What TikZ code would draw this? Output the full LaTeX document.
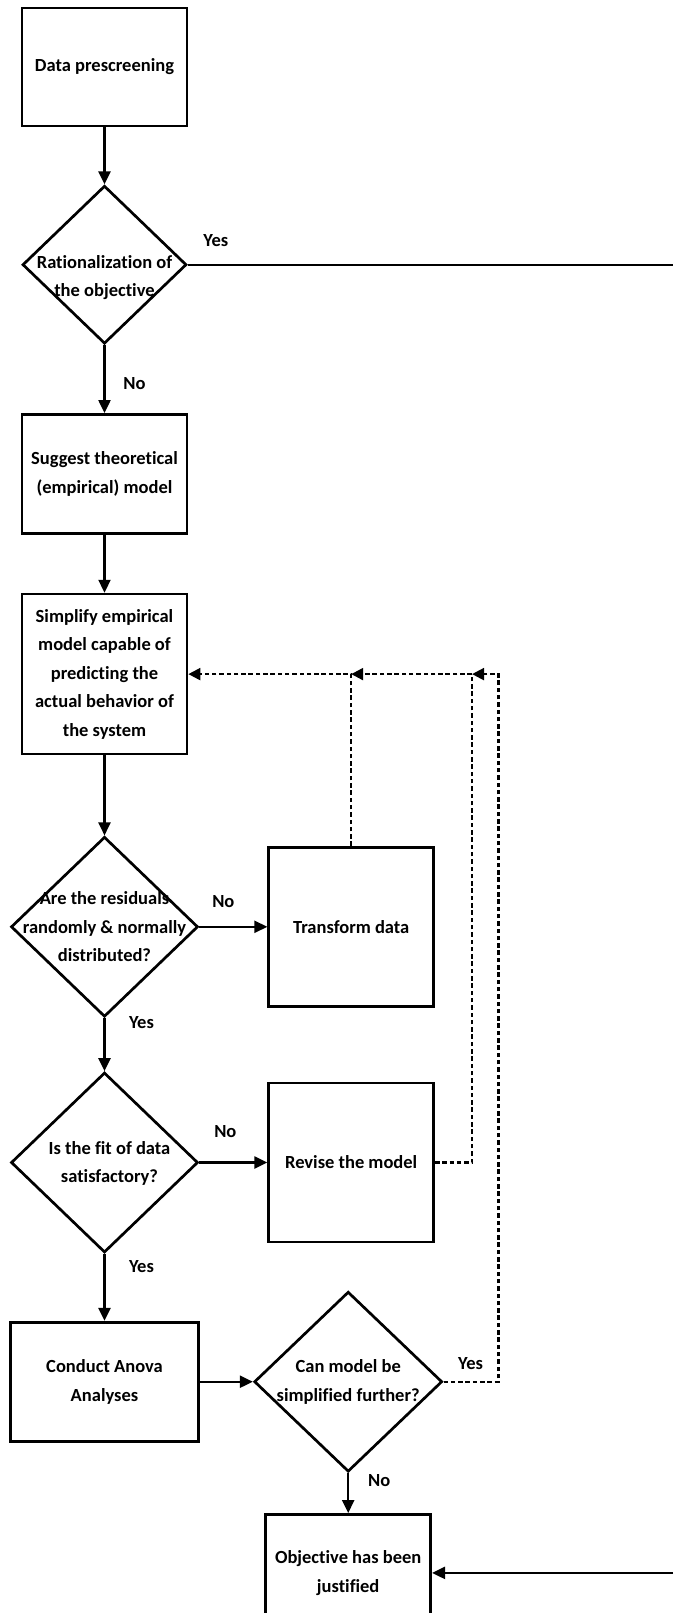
\documentclass[tikz,border=0pt]{standalone}
\usepackage{fontspec}
\setmainfont{Carlito}[Ligatures=NoCommon]
\usepackage{tikz}
\usetikzlibrary{shapes.geometric,arrows.meta,positioning,calc}
\newcommand\flowFont{\bfseries\fontsize{18.5}{28.5}\selectfont}
\tikzset{
  shape-style/.style = {
    draw, line width=2.7pt, inner sep=0pt,
    font=\flowFont, align=center
  },
  process-style/.style = {
    shape-style, rectangle,
    minimum width=165pt,
    minimum height=#1
  },
  process-style/.default = 119pt,
  decision-style/.style = {
    shape-style, diamond,
    minimum width=187pt,
    minimum height=180pt
  },
  caption-style/.style = {
    font=\flowFont, inner sep=0pt, align=center
  },
  answer-style/.style 2 args = {
    caption-style, xshift=#1, yshift=#2
  },
  line-style/.style = {draw, line width=2.3pt},
  flow-style/.style = {
    line-style, -{Triangle[length=13pt,width=12pt]}
  },
  loop-style/.style = {
    draw, line width=2.2pt, dash pattern=on 4.5pt off 2.8pt,
    -{Triangle[length=12pt,width=12pt]}
  }
}
\begin{document}
\begin{tikzpicture}[x=1pt,y=-1pt]
  \useasboundingbox (0,0) rectangle (673,1613);

  % main column
  \node[process-style=118pt] (prescreen) at (104.5,67) {Data prescreening};
  \node[decision-style, minimum width=164pt, minimum height=158pt,
        below=57pt of prescreen,
        label={[caption-style, yshift=-13pt]center:Rationalization of\\the objective}] (rational) {};
  \node[process-style, below=68pt of rational] (suggest) {Suggest theoretical\\(empirical) model};
  \node[process-style=160pt, below=58pt of suggest] (simplify)
        {Simplify empirical\\model capable of\\predicting the\\actual behavior of\\the system};
  \node[decision-style, below=80pt of simplify,
        label={[caption-style]center:Are the residuals\\randomly \& normally\\distributed?}] (residuals) {};
  \node[decision-style, below=53pt of residuals,
        label={[caption-style, xshift=5pt, yshift=-1pt]center:Is the fit of data\\satisfactory?}] (fit) {};
  \node[process-style, minimum width=188pt, below=67pt of fit] (anova) {Conduct Anova\\Analyses};

  % side boxes
  \node[process-style=159pt, right=68pt of residuals] (transform) {Transform data};
  \node[process-style=159pt, right=68pt of fit] (revise) {Revise the model};
  \node[decision-style, minimum width=188pt, right=53pt of anova,
        label={[caption-style]center:Can model be\\simplified further?}] (reduce) {};
  \node[process-style=117pt, below=40pt of reduce] (objective) {Objective has been\\justified};

  % free ends at the right border
  \coordinate (yesEnd) at (rational.east -| current bounding box.east);
  \coordinate (backStart) at (objective.east -| current bounding box.east);

  % loop junctions
  \coordinate (joinA) at (transform.north |- simplify.east);
  \coordinate (riseB) at ([xshift=37pt]revise.east);
  \coordinate (joinB) at (riseB |- simplify.east);
  \coordinate (riseC) at ([xshift=55pt]reduce.east);
  \coordinate (joinC) at (riseC |- simplify.east);

  \draw[flow-style] (prescreen) -- (rational);
  \draw[line-style] (rational.east) node[answer-style={28pt}{24pt}] {Yes} -- (yesEnd);
  \draw[flow-style] (rational.south) node[answer-style={30pt}{-39pt}] {No} -- (suggest);
  \draw[flow-style] (suggest) -- (simplify);
  \draw[flow-style] (simplify) -- (residuals);
  \draw[flow-style] (residuals.east) node[answer-style={24pt}{25pt}] {No} -- (transform);
  \draw[flow-style] (residuals.south) node[answer-style={37pt}{-4pt}] {Yes} -- (fit);
  \draw[flow-style] (fit.east) node[answer-style={26pt}{31pt}] {No} -- (revise);
  \draw[flow-style] (fit.south) node[answer-style={37pt}{-13pt}] {Yes} -- (anova);
  \draw[flow-style] (anova) -- (reduce);
  \draw[flow-style] (reduce.south) node[answer-style={31pt}{-8pt}] {No} -- (objective);
  \draw[flow-style] (backStart) -- (objective.east);

  % dashed feedback
  \draw[loop-style] (transform.north) |- (simplify.east);
  \draw[loop-style] (revise.east) -| (joinB) -- (joinA);
  \draw[loop-style] (reduce.east) node[answer-style={27pt}{18.5pt}] {Yes} -| (joinC) -- (joinB);
\end{tikzpicture}
\end{document}
